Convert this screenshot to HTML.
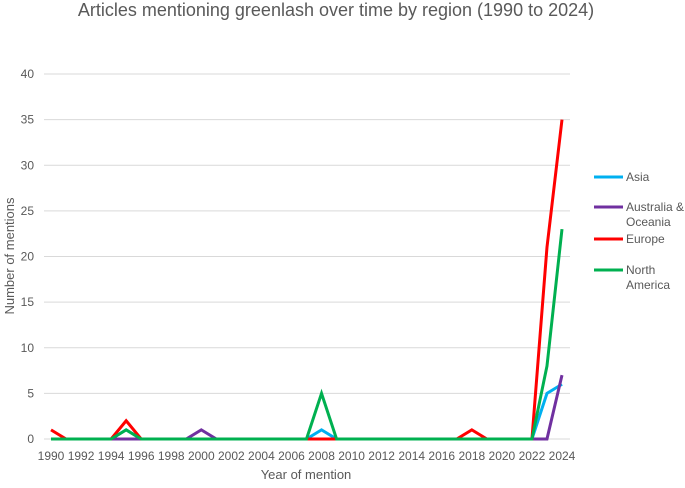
<!DOCTYPE html>
<html><head><meta charset="utf-8"><style>
body{margin:0;background:#fff;font-family:"Liberation Sans",sans-serif}
svg text{font-family:"Liberation Sans",sans-serif;fill:#595959}
</style></head><body>
<svg width="685" height="483">
<text x="336" y="16" font-size="18" text-anchor="middle">Articles mentioning greenlash over time by region (1990 to 2024)</text>
<g id="grid"></g><g id="series"></g><g id="axes"></g>
<text x="306" y="479" font-size="13" text-anchor="middle">Year of mention</text>
<text transform="translate(14,256) rotate(-90)" font-size="13" text-anchor="middle">Number of mentions</text>
<g id="legend"></g>
</svg>
<script>
const years=[];for(let y=1990;y<=2024;y++)years.push(y);
const yTicks=[0,5,10,15,20,25,30,35,40];
const seriesNames=["Asia","Australia & Oceania","Europe","North America"];
const asia=[0,0,0,0,0,1,0,0,0,0,0,0,0,0,0,0,0,0,1,0,0,0,0,0,0,0,0,0,0,0,0,0,0,5,6];
const aus=[0,0,0,0,0,0,0,0,0,0,1,0,0,0,0,0,0,0,0,0,0,0,0,0,0,0,0,0,0,0,0,0,0,0,7];
const europe=[1,0,0,0,0,2,0,0,0,0,0,0,0,0,0,0,0,0,0,0,0,0,0,0,0,0,0,0,1,0,0,0,0,21,35];
const northAmerica=[0,0,0,0,0,1,0,0,0,0,0,0,0,0,0,0,0,0,5,0,0,0,0,0,0,0,0,0,0,0,0,0,0,8,23];
const colors=["#00b0f0","#7030a0","#ff0000","#00b050"];
const NS="http://www.w3.org/2000/svg";
const X=y=>51+(y-1990)*(562-51)/34;
const Y=v=>439-v*(439-74)/40;
function mk(t,a,p){const e=document.createElementNS(NS,t);for(const k in a)e.setAttribute(k,a[k]);p.appendChild(e);return e;}
const grid=document.getElementById('grid'),axes=document.getElementById('axes'),ser=document.getElementById('series'),leg=document.getElementById('legend');
yTicks.forEach(v=>{
 const l=mk('line',{x1:44,x2:570,y1:Y(v),y2:Y(v),stroke:'#d9d9d9','stroke-width':1},grid);
 
 
 const t=mk('text',{x:34,y:Y(v)+4,'font-size':12,'text-anchor':'end'},axes);t.textContent=v;
 
 
});
years.forEach((y,i)=>{if(i%2)return;
 const t=mk('text',{x:X(y),y:460,'font-size':12,'text-anchor':'middle'},axes);t.textContent=y;
 
 
});
[asia,aus,europe,northAmerica].forEach((d,s)=>{
 const p=mk('polyline',{points:d.map((v,i)=>X(years[i])+','+Y(v)).join(' '),fill:'none',stroke:colors[s],'stroke-width':3,'stroke-linejoin':'miter'},ser);
 
 
});
const legY=[[177],[207,222],[239],[270,285]];
const legLines=[["Asia"],["Australia &","Oceania"],["Europe"],["North","America"]];
legLines.forEach((ls,s)=>{
 const g=mk('g',{},leg);
 
 
 mk('line',{x1:594,x2:623,y1:legY[s][0],y2:legY[s][0],stroke:colors[s],'stroke-width':3},g);
 ls.forEach((txt,j)=>{const t=mk('text',{x:626,y:legY[s][j]+4,'font-size':12},g);t.textContent=txt;});
});
</script>
</body></html>
